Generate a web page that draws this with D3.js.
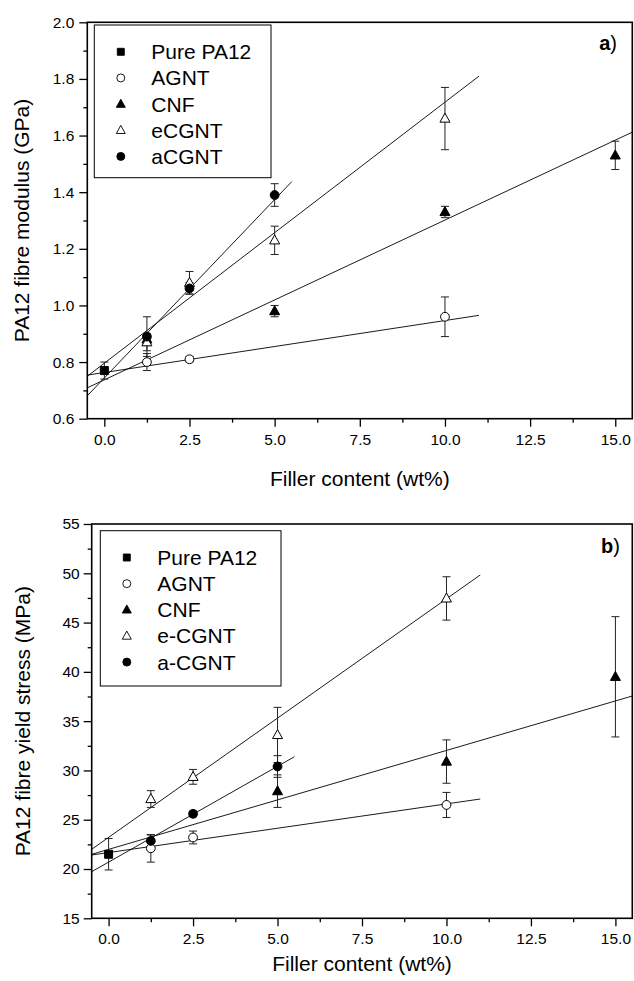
<!DOCTYPE html>
<html>
<head>
<meta charset="utf-8">
<script src="https://cdn.jsdelivr.net/npm/d3@7"></script>
<style>
  html, body { margin: 0; padding: 0; background: #fff; }
  svg { display: block; font-family: "Liberation Sans", Arial, sans-serif; }
</style>
</head>
<body>
<svg id="chart" width="634" height="981"></svg>
<script>
// ---------- shared axis data ----------
const xMajorTicks = [0, 2.5, 5, 7.5, 10, 12.5, 15];
const xMinorTicks = [1.25, 3.75, 6.25, 8.75, 11.25, 13.75];
const xTitle = "Filler content (wt%)";

// ---------- panel a: modulus ----------
const aYMajor = [0.6, 0.8, 1.0, 1.2, 1.4, 1.6, 1.8, 2.0];
const aYMinor = [0.7, 0.9, 1.1, 1.3, 1.5, 1.7, 1.9];
const aNames = ["Pure PA12", "AGNT", "CNF", "eCGNT", "aCGNT"];
const aPureX = [0], aPureY = [0.77], aPureErr = [0.03];
const aAgntX = [1.25, 2.5, 10], aAgntY = [0.80, 0.81, 0.96], aAgntErr = [0.03, 0.01, 0.07];
const aCnfX = [1.25, 5, 10, 15], aCnfY = [0.88, 0.98, 1.33, 1.53], aCnfErr = [0.02, 0.02, 0.02, 0.05];
const aEcgntX = [1.25, 2.5, 5, 10], aEcgntY = [0.87, 1.08, 1.23, 1.66], aEcgntErr = [0.03, 0.04, 0.05, 0.11];
const aAcgntX = [1.25, 2.5, 5], aAcgntY = [0.89, 1.06, 1.39], aAcgntErr = [0.07, 0.02, 0.04];
// fitted lines (end points)
const aAgntFitX = [-0.5, 11], aAgntFitY = [0.754, 0.965];
const aCnfFitX = [-0.5, 15.5], aCnfFitY = [0.709, 1.612];
const aEcgntFitX = [-0.5, 11], aEcgntFitY = [0.750, 1.810];
const aAcgntFitX = [-0.5, 5.5], aAcgntFitY = [0.681, 1.437];

// ---------- panel b: yield stress ----------
const bYMajor = [15, 20, 25, 30, 35, 40, 45, 50, 55];
const bYMinor = [17.5, 22.5, 27.5, 32.5, 37.5, 42.5, 47.5, 52.5];
const bNames = ["Pure PA12", "AGNT", "CNF", "e-CGNT", "a-CGNT"];
const bPureX = [0], bPureY = [21.5], bPureErr = [1.6];
const bAgntX = [1.25, 2.5, 10], bAgntY = [22.1, 23.2, 26.5], bAgntErr = [1.4, 0.65, 1.27];
const bCnfX = [5, 10, 15], bCnfY = [27.9, 30.9, 39.5], bCnfErr = [1.65, 2.2, 6.1];
const bEcgntX = [1.25, 2.5, 5, 10], bEcgntY = [27.1, 29.35, 33.6, 47.45], bEcgntErr = [0.85, 0.75, 2.8, 2.2];
const bAcgntX = [1.25, 2.5, 5], bAcgntY = [22.85, 25.6, 30.4], bAcgntErr = [0.6, 0.3, 1.1];
const bAgntFitX = [-0.5, 11], bAgntFitY = [21.42, 27.1];
const bCnfFitX = [-0.5, 15.5], bCnfFitY = [21.49, 37.55];
const bEcgntFitX = [-0.5, 11], bEcgntFitY = [22.0, 49.83];
const bAcgntFitX = [-0.5, 5.5], bAcgntFitY = [19.73, 31.39];

const markerTypes = ["square", "circle", "triangle", "triangle", "circle"];
const markerFilled = [true, false, true, false, true];

const svg = d3.select("#chart");

function markerPath(type, s) {
  if (type === "square") return `M${-s/2},${-s/2}h${s}v${s}h${-s}Z`;
  if (type === "triangle") { const h = s * 0.9; return `M0,${-h*0.6}L${s/2},${h*0.4}L${-s/2},${h*0.4}Z`; }
  return d3.arc()({innerRadius: 0, outerRadius: s / 2, startAngle: 0, endAngle: 2 * Math.PI});
}

function drawPanel(cfg) {
  const x = d3.scaleLinear().domain([-0.5, 15.5]).range([cfg.left, cfg.right]);
  const y = d3.scaleLinear().domain(cfg.yDomain).range([cfg.bottom, cfg.top]);
  const g = svg.append("g");

  const clipId = "clip" + cfg.id;
  svg.append("clipPath").attr("id", clipId).append("rect")
    .attr("x", cfg.left).attr("y", cfg.top).attr("width", cfg.right - cfg.left).attr("height", cfg.bottom - cfg.top);

  g.append("g").attr("transform", `translate(0,${cfg.bottom})`)
    .call(d3.axisBottom(x).tickValues(xMajorTicks).tickFormat(d3.format(".1f")).tickSize(8).tickSizeOuter(0).tickPadding(7));
  g.append("g").attr("transform", `translate(0,${cfg.bottom})`)
    .call(d3.axisBottom(x).tickValues(xMinorTicks).tickFormat("").tickSize(4).tickSizeOuter(0));
  g.append("g").attr("transform", `translate(${cfg.left},0)`)
    .call(d3.axisLeft(y).tickValues(cfg.yMajor).tickFormat(cfg.yFormat).tickSize(8).tickSizeOuter(0).tickPadding(cfg.yPad));
  g.append("g").attr("transform", `translate(${cfg.left},0)`)
    .call(d3.axisLeft(y).tickValues(cfg.yMinor).tickFormat("").tickSize(4).tickSizeOuter(0));
  g.selectAll(".domain").remove();
  g.selectAll(".tick line").attr("stroke", "#000").attr("stroke-width", 1.3);
  g.selectAll(".tick text").attr("font-size", 15.5).attr("fill", "#000")
    .attr("font-family", "'Liberation Sans', Arial, sans-serif");

  g.append("rect").attr("x", cfg.left).attr("y", cfg.top)
    .attr("width", cfg.right - cfg.left).attr("height", cfg.bottom - cfg.top)
    .attr("fill", "none").attr("stroke", "#000").attr("stroke-width", 1.6);

  g.append("text").attr("x", (cfg.left + cfg.right) / 2).attr("y", cfg.xTitleY)
    .attr("text-anchor", "middle").attr("font-size", 21).text(xTitle);
  g.append("text").attr("transform", `translate(${cfg.yTitleX},${(cfg.top + cfg.bottom) / 2}) rotate(-90)`)
    .attr("text-anchor", "middle").attr("font-size", 21).text(cfg.yTitle);
  const lab = g.append("text").attr("x", cfg.labelX).attr("y", cfg.labelY)
    .attr("text-anchor", "end").attr("font-size", 20);
  lab.append("tspan").attr("font-weight", "bold").text(cfg.label);
  lab.append("tspan").text(")");

  const plot = g.append("g").attr("clip-path", `url(#${clipId})`);

  cfg.fits.forEach(f => {
    plot.append("line")
      .attr("x1", x(f.x[0])).attr("y1", y(f.y[0]))
      .attr("x2", x(f.x[1])).attr("y2", y(f.y[1]))
      .attr("stroke", "#000").attr("stroke-width", 0.9);
  });

  cfg.series.forEach((s) => {
    s.x.forEach((xv, i) => {
      const cx = x(xv), y1 = y(s.y[i] + s.e[i]), y0 = y(s.y[i] - s.e[i]);
      const eb = plot.append("g").attr("stroke", "#222").attr("stroke-width", 1);
      eb.append("line").attr("x1", cx).attr("x2", cx).attr("y1", y1).attr("y2", y0);
      eb.append("line").attr("x1", cx - 4).attr("x2", cx + 4).attr("y1", y1).attr("y2", y1);
      eb.append("line").attr("x1", cx - 4).attr("x2", cx + 4).attr("y1", y0).attr("y2", y0);
    });
  });
  cfg.series.forEach((s, si) => {
    const t = markerTypes[si];
    const size = t === "square" ? 8 : (t === "circle" ? 8.8 : 10);
    s.x.forEach((xv, i) => {
      plot.append("path").attr("d", markerPath(t, size))
        .attr("transform", `translate(${x(xv)},${y(s.y[i])})`)
        .attr("fill", markerFilled[si] ? "#000" : "#fff")
        .attr("stroke", "#000").attr("stroke-width", 1);
    });
  });

  const lg = g.append("g");
  lg.append("rect").attr("x", cfg.legend.x).attr("y", cfg.legend.y)
    .attr("width", cfg.legend.w).attr("height", cfg.legend.h)
    .attr("fill", "#fff").attr("stroke", "#000").attr("stroke-width", 1);
  cfg.names.forEach((n, i) => {
    const cy = cfg.legend.y + 26.8 + 26.15 * i;
    const t = markerTypes[i];
    const size = t === "square" ? 7 : (t === "circle" ? 8 : 9);
    lg.append("path").attr("d", markerPath(t, size))
      .attr("transform", `translate(${cfg.legend.x + 26.5},${cy})`)
      .attr("fill", markerFilled[i] ? "#000" : "#fff")
      .attr("stroke", "#000").attr("stroke-width", 0.9);
    lg.append("text").attr("x", cfg.legend.x + 57).attr("y", cy + 7.5)
      .attr("font-size", 21).text(n);
  });
}

drawPanel({
  id: "a", left: 87.3, right: 632.3, top: 22.3, bottom: 418.7,
  yDomain: [0.6, 2.0], yMajor: aYMajor, yMinor: aYMinor, yFormat: d3.format(".1f"), yPad: 5,
  yTitle: "PA12 fibre modulus (GPa)", yTitleX: 28.5, xTitleY: 486,
  label: "a", labelX: 617, labelY: 50,
  names: aNames,
  legend: {x: 94.3, y: 25, w: 176.7, h: 152.7},
  fits: [
    {x: aAgntFitX, y: aAgntFitY}, {x: aCnfFitX, y: aCnfFitY},
    {x: aEcgntFitX, y: aEcgntFitY}, {x: aAcgntFitX, y: aAcgntFitY}
  ],
  series: [
    {x: aPureX, y: aPureY, e: aPureErr},
    {x: aAgntX, y: aAgntY, e: aAgntErr},
    {x: aCnfX, y: aCnfY, e: aCnfErr},
    {x: aEcgntX, y: aEcgntY, e: aEcgntErr},
    {x: aAcgntX, y: aAcgntY, e: aAcgntErr}
  ]
});

drawPanel({
  id: "b", left: 91.7, right: 632.3, top: 524, bottom: 918.3,
  yDomain: [15, 55], yMajor: bYMajor, yMinor: bYMinor, yFormat: d3.format("d"), yPad: 4,
  yTitle: "PA12 fibre yield stress (MPa)", yTitleX: 30, xTitleY: 971,
  label: "b", labelX: 620, labelY: 553,
  names: bNames,
  legend: {x: 100.3, y: 530.7, w: 180.7, h: 155.3},
  fits: [
    {x: bAgntFitX, y: bAgntFitY}, {x: bCnfFitX, y: bCnfFitY},
    {x: bEcgntFitX, y: bEcgntFitY}, {x: bAcgntFitX, y: bAcgntFitY}
  ],
  series: [
    {x: bPureX, y: bPureY, e: bPureErr},
    {x: bAgntX, y: bAgntY, e: bAgntErr},
    {x: bCnfX, y: bCnfY, e: bCnfErr},
    {x: bEcgntX, y: bEcgntY, e: bEcgntErr},
    {x: bAcgntX, y: bAcgntY, e: bAcgntErr}
  ]
});
</script>
</body>
</html>
